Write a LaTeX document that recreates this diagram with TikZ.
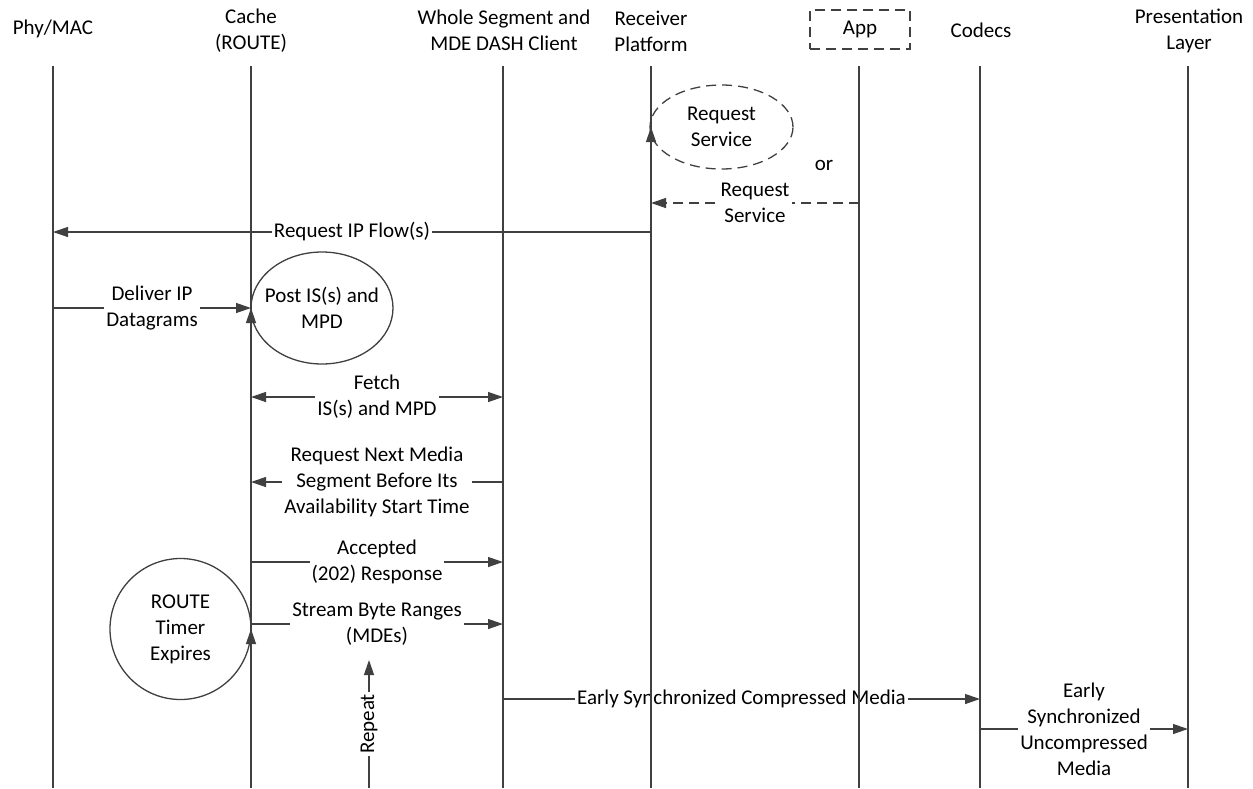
\documentclass[tikz,border=0pt]{standalone}
\usepackage{fontspec}
\setmainfont{Carlito}
\usetikzlibrary{arrows.meta,shapes.geometric}
\definecolor{ln}{HTML}{404040}
\tikzset{
  life/.style={draw=ln,line width=1.3pt},
  msg/.style={draw=ln,line width=1.3pt,-{Triangle[length=15pt,width=10pt]}},
  dmsg/.style={draw=ln,line width=1.3pt,{Triangle[length=15pt,width=10pt]}-{Triangle[length=15pt,width=10pt]}},
  dsh/.style={dash pattern=on 10pt off 6pt},
  txt/.style={align=center,font=\fontsize{21}{26}\selectfont,inner sep=0pt,text=black},
  lbl/.style={txt,fill=white,inner sep=2pt},
  bubble/.style={txt,draw=ln,line width=1.3pt,ellipse,inner sep=-20pt},
}
\begin{document}
\begin{tikzpicture}[x=1pt,y=-1pt]
\useasboundingbox (0,0) rectangle (1253,788);
% headers
\node[txt] (phy) at (53,29) {Phy/MAC};
\node[txt] (cache) at (251,31) {Cache\\(ROUTE)};
\node[txt] (seg) at (504,30) {Whole Segment and\\MDE DASH Client};
\node[txt] (recv) at (651,31) {Receiver\\Platform};
\node[txt,draw=ln,line width=1.3pt,dsh,minimum width=100pt,minimum height=39pt] (app) at (860,29.5) {App};
\node[txt] (codec) at (981,30) {Codecs};
\node[txt] (pres) at (1189,31) {Presentation\\Layer};
% lifeline end points
\coordinate (phyT) at (53,66);   \coordinate (phyB) at (53,788);
\coordinate (cacheT) at (251,66); \coordinate (cacheB) at (251,788);
\coordinate (segT) at (503,66);  \coordinate (segB) at (503,788);
\coordinate (recvT) at (651,66); \coordinate (recvB) at (651,788);
\coordinate (appT) at (859,66);  \coordinate (appB) at (859,788);
\coordinate (codecT) at (980,66); \coordinate (codecB) at (980,788);
\coordinate (presT) at (1188,66); \coordinate (presB) at (1188,788);
% bubbles
\node[bubble,dsh,minimum width=143pt,minimum height=84pt] (rsv) at (721.5,127) {Request\\Service};
\node[txt] (or) at (824,165) {or};
\node[bubble,minimum width=142pt,minimum height=112pt] (post) at (322,308) {Post IS(s) and\\MPD};
\node[bubble,minimum width=141pt,minimum height=141pt] (timer) at (180.5,629) {ROUTE\\Timer\\Expires};
% message end points
\coordinate (m1a) at (859,203); \coordinate (m1b) at (651,203);
\coordinate (m2a) at (651,232); \coordinate (m2b) at (53,232);
\coordinate (m3a) at (53,308);  \coordinate (m3b) at (251,308);
\coordinate (m4a) at (251,397); \coordinate (m4b) at (503,397);
\coordinate (m5a) at (503,482); \coordinate (m5b) at (251,482);
\coordinate (m6a) at (251,562); \coordinate (m6b) at (503,562);
\coordinate (m7a) at (251,624); \coordinate (m7b) at (503,624);
\coordinate (m8a) at (503,699); \coordinate (m8b) at (980,699);
\coordinate (m9a) at (980,729); \coordinate (m9b) at (1188,729);
\coordinate (s1) at (651,232);
\coordinate (s2) at (251,397);
\coordinate (s3) at (251,733);
\coordinate (r1) at (369,788); \coordinate (r2) at (369,660);
% messages
\draw[msg,dsh] (m1a) -- node[lbl]{Request\\Service} (m1b);
\draw[msg] (m2a) -- node[lbl]{Request IP Flow(s)} (m2b);
\draw[msg] (m3a) -- node[lbl]{Deliver IP\\Datagrams} (m3b);
\draw[dmsg] (m4a) -- node[lbl]{Fetch\\IS(s) and MPD} (m4b);
\draw[msg] (m5a) -- node[lbl]{Request Next Media\\Segment Before Its\\Availability Start Time} (m5b);
\draw[msg] (m6a) -- node[lbl]{Accepted\\(202) Response} (m6b);
\draw[msg] (m7a) -- node[lbl]{Stream Byte Ranges\\(MDEs)} (m7b);
\draw[msg] (m8a) -- node[lbl]{Early Synchronized Compressed Media} (m8b);
\draw[msg] (m9a) -- node[lbl]{Early\\Synchronized\\Uncompressed\\Media} (m9b);
\draw[msg] (r1) -- node[lbl,rotate=90,pos=0.5]{Repeat} (r2);
% self arrows
\draw[msg] (s1) -- (s1 |- rsv.west);
\draw[msg] (s2) -- (s2 |- post.west);
\draw[msg] (s3) -- (s3 |- timer.east);
% lifelines on top
\draw[life] (phyT) -- (phyB);
\draw[life] (cacheT) -- (cacheB);
\draw[life] (segT) -- (segB);
\draw[life] (recvT) -- (recvB);
\draw[life] (appT) -- (appB);
\draw[life] (codecT) -- (codecB);
\draw[life] (presT) -- (presB);
\end{tikzpicture}
\end{document}
